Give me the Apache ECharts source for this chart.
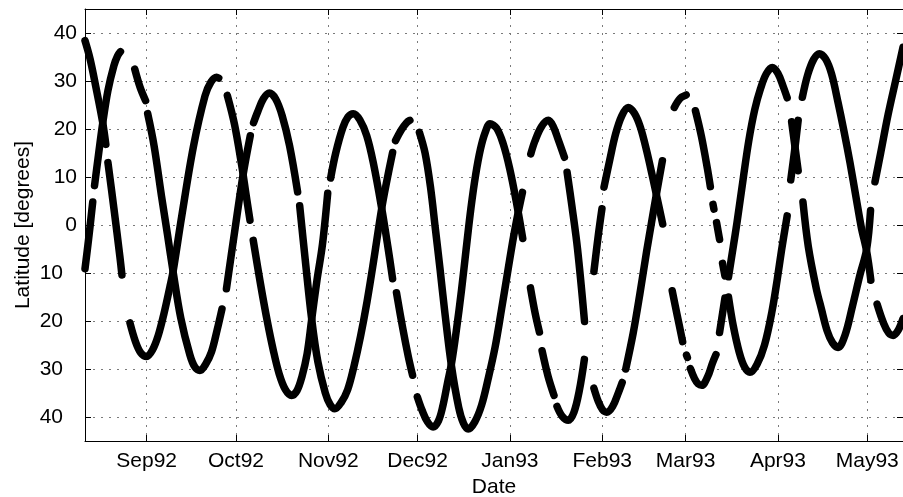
<!DOCTYPE html>
<html>
<head>
<meta charset="utf-8">
<script src="https://cdn.jsdelivr.net/npm/echarts@6/dist/echarts.min.js"></script>
<style>
  html, body { margin: 0; padding: 0; background: #fff; }
  #chart { width: 903px; height: 497px; }
</style>
</head>
<body>
<div id="chart"></div>
<script>
// Time is counted in days from 1 Aug 1992.
const monthStarts = [31, 61, 92, 122, 153, 184, 212, 243, 273];
const monthLabels = ['Sep92', 'Oct92', 'Nov92', 'Dec92', 'Jan93', 'Feb93', 'Mar93', 'Apr93', 'May93'];
const latTicks = [-40, -30, -20, -10, 0, 10, 20, 30, 40];

// Track A: day, latitude (null = no data)
const dayA = [10.3, 12.0, 14.0, 16.2, 17.3, 17.6, 18.0, 20.0, 22.0, 22.7, 24.0, 25.4, 27.2, 29.0, 31.0, 33.0, 34.9, 36.8, 38.8, 39.9,
  42.75, 46.7, 50.6, 52.6, 54.5, 55.2, 56.6, 58.1, 60.5, 62.9, 64.4, 65.7, 66.2, 66.8, 69.3, 71.5, 73.5, 75.5, 77.6, 79.7,
  81.5, 83.15, 84.9, 86.4, 88.2, 90.05, 91.8, 92.3, 92.8, 94.5, 96.9, 98.6, 100.4, 102.6, 104.9, 107.1, 109.9, 112.0, 113.6, 114.2,
  114.9, 117.0, 118.9, 120.3, 121.1, 121.9, 123.5, 125.3, 127.2, 129.0, 130.4, 132.0, 133.4, 135.0, 136.75, 138.3, 139.9, 141.5, 143.1, 144.7,
  146.3, 148.5, 150.7, 152.9, 155.1, 157.3, 158.6, 159.9, 161.5, 162.9, 163.35, 163.8, 165.8, 167.8, 168.3, 168.8, 170.5, 172.6, 174.5, 176.3,
  178.0, 179.6, 181.2, 182.7, 183.9, 184.25, 184.6, 186.5, 188.5, 190.6, 192.7, 194.8, 196.8, 198.9, 200.9, 202.3, 204.3, 205.9, 207.5, 209.2,
  211.0, 211.65, 212.3, 212.6, 213.1, 213.6, 215.0, 216.2, 217.4, 219.4, 221.0, 222.2, 222.8, 223.4, 225.2, 225.8, 226.4, 228.0, 229.25, 231.3,
  233.2, 235.2, 237.15, 239.1, 241.1, 243.0, 244.8, 246.1, 246.85, 247.6, 249.8, 250.6, 251.4, 253.2, 255.8, 257.6, 259.5, 261.3, 263.2, 265.5,
  268.0, 270.5, 272.8, 274.1, 274.85, 275.6, 277.5, 280.0, 282.5, 285.0];
const latA = [38.4, 34.6, 28.6, 21.5, 16.8, null, 13.0, 3.5, -6.5, -10.4, null, -20.4, -24.2, -26.6, -27.4, -26.0, -23.0, -18.5, -12.9, -9.6,
  1.7, 16.3, 26.9, 29.8, 30.8, 30.6, null, 27.0, 21.0, 12.5, 6.3, 1.0, null, -3.2, -12.5, -20.0, -26.0, -31.0, -34.3, -35.5,
  -34.5, -31.6, -26.8, -19.8, -11.5, -4.0, 6.6, null, 9.8, 15.0, 20.3, 22.5, 23.2, 21.9, 18.6, 13.0, 3.6, -4.5, -11.2, null,
  -14.1, -21.5, -27.5, -31.3, null, -35.8, -38.6, -41.0, -42.1, -40.8, -37.9, -33.0, -28.8, -22.0, -13.5, -5.0, 3.5, 10.5, 15.8, 19.3,
  21.1, 20.2, 17.0, 11.8, 5.0, -2.8, null, -13.1, -18.5, -22.3, null, -26.2, -31.5, -35.5, null, -37.8, -39.8, -40.7, -39.0, -34.5,
  -28.0, null, -9.7, -2.0, 3.4, null, 7.9, 13.5, 19.0, 22.8, 24.5, 23.3, 20.4, 15.5, 10.0, 6.0, 0.2, null, -13.7, -18.9,
  -24.3, null, -27.1, -27.6, null, -29.9, -32.0, -33.1, -33.4, -31.6, -28.8, -27.0, null, -22.4, -15.2, null, -10.8, -4.5, 0.5, 9.5,
  17.5, 24.0, 28.4, 31.5, 32.8, 31.6, 28.8, 26.5, null, 21.5, 11.3, null, 4.8, -4.5, -13.0, -17.5, -22.0, -24.5, -25.5, -23.0,
  -17.0, -10.5, -5.0, 3.0, null, 9.0, 15.0, 23.0, 30.0, 37.0];

// Track B: day, latitude (null = no data)
const dayB = [10.3, 11.5, 12.9, 13.2, 13.5, 14.8, 16.2, 18.0, 20.0, 21.2, 22.2, 24.6, 27.0, 28.8, 30.65, 31.0, 31.35, 33.5, 36.0, 38.0,
  39.9, 42.5, 45.5, 47.2, 48.9, 50.8, 52.8, 54.7, 56.3, 57.05, 57.8, 60.55, 63.4, 65.8, 66.35, 66.9, 68.3, 70.2, 72.2, 74.3,
  76.5, 79.0, 81.7, 82.05, 82.4, 84.3, 86.4, 88.5, 91.0, 92.6, 94.2, 96.3, 98.5, 100.6, 102.8, 105.0, 107.1, 109.9, 111.6, 113.6,
  114.1, 114.6, 116.5, 118.3, 119.4, 121.0, 122.6, 124.5, 126.3, 128.0, 129.5, 131.1, 133.4, 135.8, 137.4, 139.0, 141.2, 143.5, 145.7, 148.0,
  150.2, 152.45, 154.2, 155.8, 157.2, 158.6, 160.0, 161.4, 163.6, 165.9, 167.5, 169.2, 171.3, 171.75, 172.2, 173.8, 175.7, 178.05, 179.6, 181.2,
  182.7, 184.1, 185.5, 187.5, 189.5, 190.7, 191.3, 191.9, 194.4, 196.6, 198.9, 200.6, 202.3, 204.2, 206.2, 208.2, 210.2, 212.2, 213.8, 215.3,
  217.3, 219.3, 220.3, 220.75, 221.2, 221.5, 221.95, 222.4, 223.4, 223.9, 224.4, 225.2, 225.8, 226.4, 228.0, 230.0, 231.8, 233.6, 236.0, 238.5,
  241.0, 242.8, 244.2, 246.1, 246.7, 247.3, 248.6, 249.8, 250.5, 251.2, 253.0, 255.0, 256.9, 259.0, 261.0, 263.2, 265.2, 267.2, 269.3, 271.0,
  272.8, 274.2, 275.25, 276.3, 278.5, 280.2, 281.7, 283.3, 285.0];
const latB = [-9.1, -3.0, 4.8, null, 8.2, 14.5, 21.0, 28.0, 33.2, 35.2, 36.1, null, 32.5, 28.7, 25.9, null, 23.2, 16.5, 6.0, -2.0,
  -9.8, -19.5, -27.0, -29.6, -30.3, -29.0, -26.4, -21.8, -17.5, null, -13.3, -1.4, 10.5, 18.6, null, 21.3, 23.6, 26.3, 27.5, 26.3,
  22.8, 16.5, 6.9, null, 4.0, -7.5, -19.5, -28.5, -35.0, -37.4, -38.3, -37.0, -34.3, -29.5, -23.3, -16.0, -8.0, 3.3, 9.0, 15.1,
  null, 17.6, 19.8, 21.3, 21.8, null, 19.3, 15.0, 8.0, -1.0, -9.0, -18.0, -29.5, -38.0, -41.3, -42.5, -41.0, -37.5, -32.0, -25.5,
  -17.5, -9.0, -2.5, 2.7, 6.8, null, 14.8, 17.5, 20.5, 21.8, 20.6, 17.8, 14.1, null, 11.0, 4.0, -5.0, -20.1, null, -34.0,
  -36.8, -38.5, -39.0, -37.8, -34.8, -32.8, null, -30.0, -22.5, -14.5, -5.5, 0.7, 6.8, 13.4, null, 24.5, 26.4, 27.1, null, 23.8,
  18.5, 11.8, 8.0, null, 4.3, 3.3, null, 0.5, -3.0, null, -8.0, -10.6, null, -15.0, -21.0, -26.5, -29.6, -30.7, -29.0, -25.0,
  -18.0, -11.2, -5.3, 1.9, null, 9.4, 15.5, 21.8, null, 26.6, 31.3, 34.5, 35.7, 34.6, 31.5, 25.5, 19.5, 13.0, 5.5, -0.5,
  -5.5, -11.5, null, -16.5, -20.5, -22.5, -23.0, -22.0, -19.5];

const X_MIN = 10.3, X_MAX = 285.0;
const FONT = 'Liberation Sans, Arial, Helvetica, sans-serif';

function pairs(days, lats) {
  return days.map((d, i) => [d, lats[i]]);
}

const gridLine = { show: true, lineStyle: { color: '#7a7a7a', width: 1, type: [2, 6] } };
const boxLine = { show: true, onZero: false, lineStyle: { color: '#000', width: 1 } };

function trackSeries(name, data) {
  return {
    name: name,
    type: 'line',
    data: data,
    showSymbol: false,
    symbol: 'none',
    smooth: 0.35,
    connectNulls: false,
    clip: true,
    silent: true,
    lineStyle: { color: '#000', width: 7.5, cap: 'round', join: 'round' }
  };
}

const chart = echarts.init(document.getElementById('chart'), null, { renderer: 'canvas' });
chart.setOption({
  animation: false,
  backgroundColor: '#fff',
  grid: { left: 85, right: 0, top: 9, bottom: 56, containLabel: false, outerBoundsMode: 'none' },
  xAxis: [
    {
      type: 'value', position: 'bottom', min: X_MIN, max: X_MAX,
      axisLine: boxLine,
      axisTick: { show: true, inside: true, length: 6, customValues: monthStarts, lineStyle: { color: '#000', width: 1 } },
      axisLabel: {
        show: true, customValues: monthStarts, margin: 10,
        color: '#000', fontSize: 21, fontFamily: FONT,
        formatter: v => { const i = monthStarts.indexOf(v); return i >= 0 ? monthLabels[i] : ''; }
      },
      splitLine: gridLine,
      name: 'Date', nameLocation: 'middle', nameGap: 36, nameMoveOverlap: false,
      nameTextStyle: { color: '#000', fontSize: 21, fontFamily: FONT }
    },
    {
      type: 'value', position: 'top', min: X_MIN, max: X_MAX,
      axisLine: boxLine,
      axisTick: { show: true, inside: true, length: 6, customValues: monthStarts, lineStyle: { color: '#000', width: 1 } },
      axisLabel: { show: false },
      splitLine: { show: false }
    }
  ],
  yAxis: [
    {
      type: 'value', position: 'left', min: -45, max: 45,
      axisLine: boxLine,
      axisTick: { show: true, inside: true, length: 6, customValues: latTicks, lineStyle: { color: '#000', width: 1 } },
      axisLabel: {
        show: true, customValues: latTicks, margin: 8,
        color: '#000', fontSize: 21, fontFamily: FONT,
        formatter: v => (v < 0 ? '{neg|' + (-v) + '}' : String(v)),
        rich: { neg: { color: '#000', fontSize: 21, fontFamily: FONT, padding: [0, 14, 0, 0] } }
      },
      splitLine: gridLine,
      name: 'Latitude [degrees]', nameLocation: 'middle', nameGap: 51, nameRotate: 90, nameMoveOverlap: false,
      nameTextStyle: { color: '#000', fontSize: 21, fontFamily: FONT }
    },
    {
      type: 'value', position: 'right', min: -45, max: 45,
      axisLine: boxLine,
      axisTick: { show: true, inside: true, length: 6, customValues: latTicks, lineStyle: { color: '#000', width: 1 } },
      axisLabel: { show: false },
      splitLine: { show: false }
    }
  ],
  series: [
    trackSeries('Track A', pairs(dayA, latA)),
    trackSeries('Track B', pairs(dayB, latB))
  ]
});
</script>
</body>
</html>
